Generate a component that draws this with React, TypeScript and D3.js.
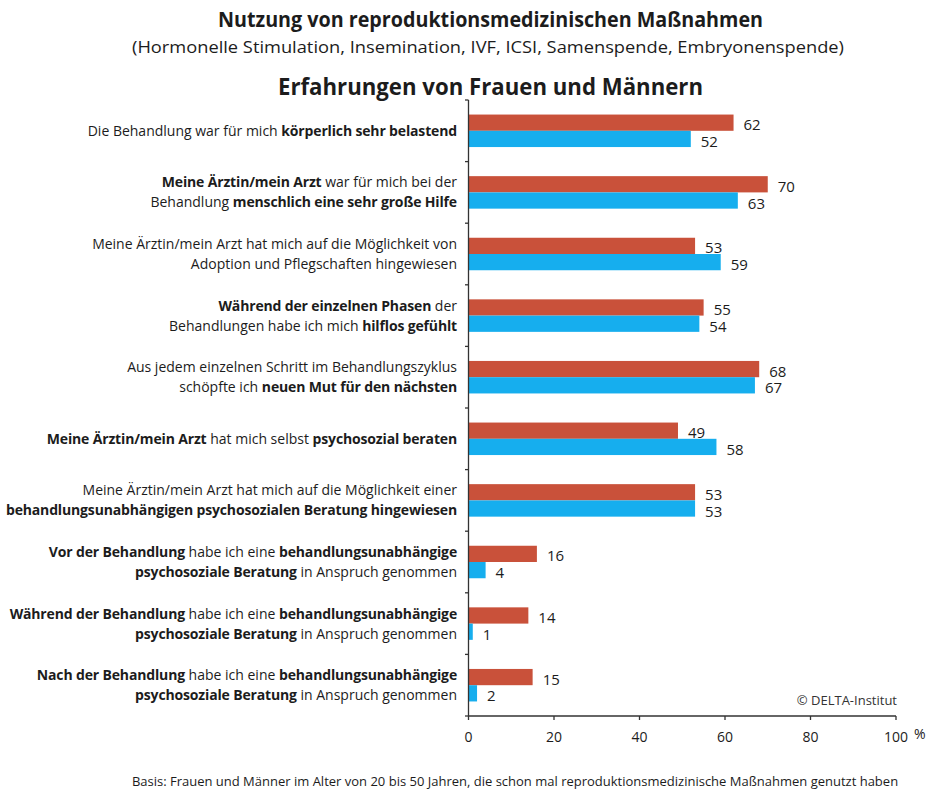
import React from "react";
import * as d3 from "d3";

const TITLE = "Nutzung von reproduktionsmedizinischen Maßnahmen";
const SUBTITLE = "(Hormonelle Stimulation, Insemination, IVF, ICSI, Samenspende, Embryonenspende)";
const TITLE2 = "Erfahrungen von Frauen und Männern";
const FOOTER = "Basis: Frauen und Männer im Alter von 20 bis 50 Jahren, die schon mal reproduktionsmedizinische Maßnahmen genutzt haben";
const CREDIT = "©  DELTA-Institut";

const categories: string[][] = [
  ["Die Behandlung war für mich **körperlich sehr belastend**"],
  ["**Meine Ärztin/mein Arzt** war für mich bei der", "Behandlung **menschlich eine sehr große Hilfe**"],
  ["Meine Ärztin/mein Arzt hat mich auf die Möglichkeit von", "Adoption und Pflegschaften hingewiesen"],
  ["**Während der einzelnen Phasen** der", "Behandlungen habe ich mich **hilflos gefühlt**"],
  ["Aus jedem einzelnen Schritt im Behandlungszyklus", "schöpfte ich **neuen Mut für den nächsten**"],
  ["**Meine Ärztin/mein Arzt** hat mich selbst **psychosozial beraten**"],
  ["Meine Ärztin/mein Arzt hat mich auf die Möglichkeit einer", "**behandlungsunabhängigen psychosozialen Beratung hingewiesen**"],
  ["**Vor der Behandlung** habe ich eine **behandlungsunabhängige**", "**psychosoziale Beratung** in Anspruch genommen"],
  ["**Während der Behandlung** habe ich eine **behandlungsunabhängige**", "**psychosoziale Beratung** in Anspruch genommen"],
  ["**Nach der Behandlung** habe ich eine **behandlungsunabhängige**", "**psychosoziale Beratung** in Anspruch genommen"],
];

const seriesRed: number[] = [62, 70, 53, 55, 68, 49, 53, 16, 14, 15];
const seriesBlue: number[] = [52, 63, 59, 54, 67, 58, 53, 4, 1, 2];
const xTicks: number[] = [0, 20, 40, 60, 80, 100];

const RED = "#C9513A";
const BLUE = "#16AEEE";
const FONT = "'Open Sans', Lato, sans-serif";
const TEXT = "#1c1c1c";

function renderLine(line: string) {
  const parts = line.split("**");
  return parts.map((p, i) =>
    i % 2 === 1 ? (
      <tspan key={i} fontWeight={700} letterSpacing={-0.15}>{p}</tspan>
    ) : (
      <tspan key={i} fontWeight={400}>{p}</tspan>
    )
  );
}

export default function App() {
  const W = 927, H = 790;
  const x = d3.scaleLinear().domain([0, 100]).range([468.5, 896]);
  const idx = categories.map((_, i) => i);
  const y = d3.scaleBand<number>().domain(idx).range([100, 716]).padding(0);
  const inner = d3.scaleBand<string>().domain(["red", "blue"]).range([0, 32.5]);
  const step = y.step();
  const off = (step - 32.5) / 2;
  const boundaries = d3.range(categories.length + 1).map((i) => 100 + i * step);

  return (
    <svg width={W} height={H} style={{ position: "absolute", left: 0, top: 0, background: "#fff" }} fontFamily={FONT}>
      <rect width={W} height={H} fill="#fff" />
      <text x={490.5} y={27} textAnchor="middle" fontSize={21} fontWeight={700} fill={TEXT}
        textLength={545} lengthAdjust="spacingAndGlyphs">{TITLE}</text>
      <text x={488} y={53} textAnchor="middle" fontSize={17} fill={TEXT}
        textLength={712} lengthAdjust="spacingAndGlyphs">{SUBTITLE}</text>
      <text x={490.5} y={94.5} textAnchor="middle" fontSize={23.5} fontWeight={700} fill={TEXT}
        textLength={425} lengthAdjust="spacingAndGlyphs">{TITLE2}</text>

      {categories.map((lines, i) => {
        const cy = (y(i) as number) + step / 2;
        const lh = 20;
        const first = cy - ((lines.length - 1) * lh) / 2 + 5;
        return (
          <text key={i} textAnchor="end" fontSize={14} fill={TEXT}>
            {lines.map((l, j) => (
              <tspan key={j} x={457} y={first + j * lh}>{renderLine(l)}</tspan>
            ))}
          </text>
        );
      })}

      {idx.map((i) => {
        const top = (y(i) as number) + off;
        const yr = top + (inner("red") as number);
        const yb = top + (inner("blue") as number);
        const bh = inner.bandwidth();
        return (
          <g key={i}>
            <rect x={x(0)} y={yr} width={x(seriesRed[i]) - x(0)} height={bh} fill={RED} />
            <rect x={x(0)} y={yb} width={x(seriesBlue[i]) - x(0)} height={bh} fill={BLUE} />
            <text x={x(seriesRed[i]) + 10} y={yr + bh / 2 + 7.5} fontSize={15} fill={TEXT}>{seriesRed[i]}</text>
            <text x={x(seriesBlue[i]) + 10} y={yb + bh / 2 + 8} fontSize={15} fill={TEXT}>{seriesBlue[i]}</text>
          </g>
        );
      })}

      <line x1={x(0)} x2={x(0)} y1={100} y2={716} stroke="#333" strokeWidth={1.3} />
      {boundaries.map((b, i) => (
        <line key={i} x1={x(0) - 3.5} x2={x(0)} y1={b} y2={b} stroke="#333" strokeWidth={1.3} />
      ))}
      <line x1={x(0)} x2={x(100)} y1={716} y2={716} stroke="#333" strokeWidth={1.3} />
      {xTicks.map((t) => (
        <g key={t}>
          <line x1={x(t)} x2={x(t)} y1={716} y2={720} stroke="#333" strokeWidth={1.3} />
          <text x={x(t)} y={742} textAnchor="middle" fontSize={14} fill={TEXT}>{t}</text>
        </g>
      ))}
      <text x={914} y={739} fontSize={14} fill={TEXT}>%</text>
      <text x={897} y={705} textAnchor="end" fontSize={13} fill="#333">{CREDIT}</text>
      <text x={515} y={786} textAnchor="middle" fontSize={13} fill={TEXT}>{FOOTER}</text>
    </svg>
  );
}
